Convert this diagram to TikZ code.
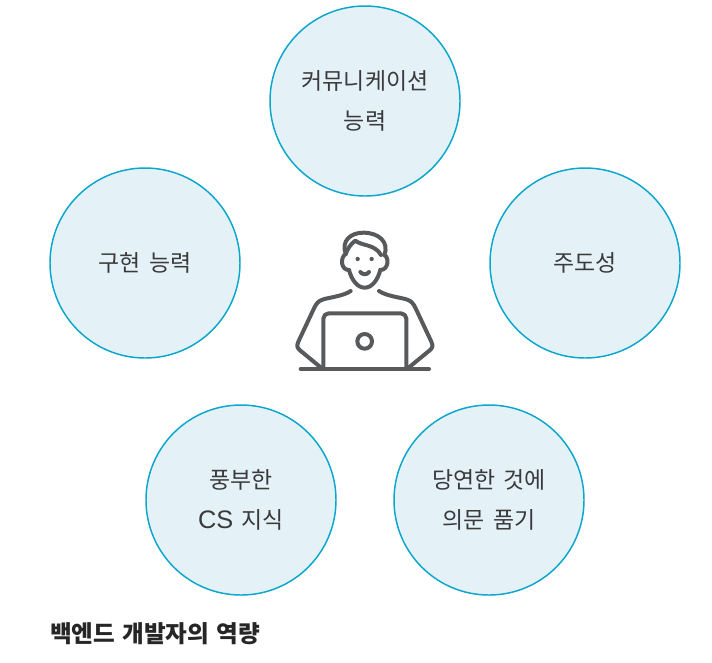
\documentclass[tikz,border=0pt]{standalone}
\usepackage{fontspec}
\setmainfont[WordSpace=1.6]{Noto Sans CJK KR}
\newfontfamily\krbold[WordSpace=1.3]{Noto Sans CJK KR Bold}
\newfontfamily\latinpart{Liberation Sans}
\begin{document}
\begin{tikzpicture}[x=0.75pt,y=-0.75pt,
  skill/.style={circle,draw=skillline,fill=skillfill,line width=1.1pt,minimum size=142.5pt,inner sep=0pt,align=center,text=textcol,font=\fontsize{17.2}{30}\selectfont},
  icon/.style={draw=iconcol,line width=3pt,line cap=round,line join=round},
  title/.style={anchor=west,inner sep=0pt,text=black!85,font=\fontsize{17.7}{20}\selectfont\bfseries}]
\definecolor{skillline}{HTML}{0AA6CC}
\definecolor{skillfill}{HTML}{E4F2F8}
\definecolor{iconcol}{HTML}{58595B}
\definecolor{textcol}{HTML}{3A3A3C}
\useasboundingbox (0,0) rectangle (712,662);
\node[skill] (comm) at (365,101) {\raisebox{-0.8pt}{커뮤니케이션}\\\raisebox{-0.8pt}{능력}};
\node[skill] (impl) at (145,263) {\raisebox{-0.8pt}{구현 능력}};
\node[skill] (lead) at (585,263) {\raisebox{-0.8pt}{주도성}};
\node[skill] (know) at (241,500) {\raisebox{-0.8pt}{풍부한}\\\raisebox{-0.8pt}{{\latinpart\fontsize{19}{30}\selectfont CS} 지식}};
\node[skill] (ques) at (489,500) {\raisebox{-0.8pt}{당연한 것에}\\\raisebox{-0.8pt}{의문 품기}};
\node[title] (cap) at (50,634) {\krbold 백엔드 개발자의 역량};
\begin{scope}[shift={(280,220)},x=0.25pt,y=-0.25pt]
 % hair
 \draw[icon] (197,102) .. controls (183,62) and (212,38) .. (250,38) .. controls (298,38) and (328,68) .. (313,105);
 \draw[icon] (197,102) .. controls (203,85) and (212,72) .. (226,62) .. controls (245,78) and (285,72) .. (303,105);
 % face
 \draw[icon] (207,150) .. controls (215,180) and (232,203) .. (254,203) .. controls (276,203) and (293,180) .. (301,150);
 % ears
 \draw[icon] (197,102) .. controls (180,112) and (182,150) .. (207,150);
 \draw[icon] (313,105) .. controls (328,112) and (326,150) .. (301,150);
 % eyes, smile
 \fill[iconcol] (233,117) circle (6.5);
 \fill[iconcol] (275,117) circle (6.5);
 \draw[icon] (241,156) .. controls (248,165) and (260,165) .. (267,156);
 % shoulders and arms
 \draw[icon] (212,213) .. controls (190,228) and (150,232) .. (130,238) .. controls (115,242) and (108,252) .. (102,265) -- (55,365) .. controls (49,378) and (52,384) .. (60,391) -- (122,442);
 \draw[icon] (297,213) .. controls (319,228) and (359,232) .. (379,238) .. controls (394,242) and (401,252) .. (407,265) -- (454,365) .. controls (460,378) and (457,384) .. (449,391) -- (387,442);
 % laptop
 \draw[icon,rounded corners=4pt] (130,445) -- (130,280) -- (379,280) -- (379,445);
 \draw[icon] (254,364) circle (22);
 \draw[icon] (62,447) -- (447,447);
\end{scope}
\end{tikzpicture}
\end{document}
